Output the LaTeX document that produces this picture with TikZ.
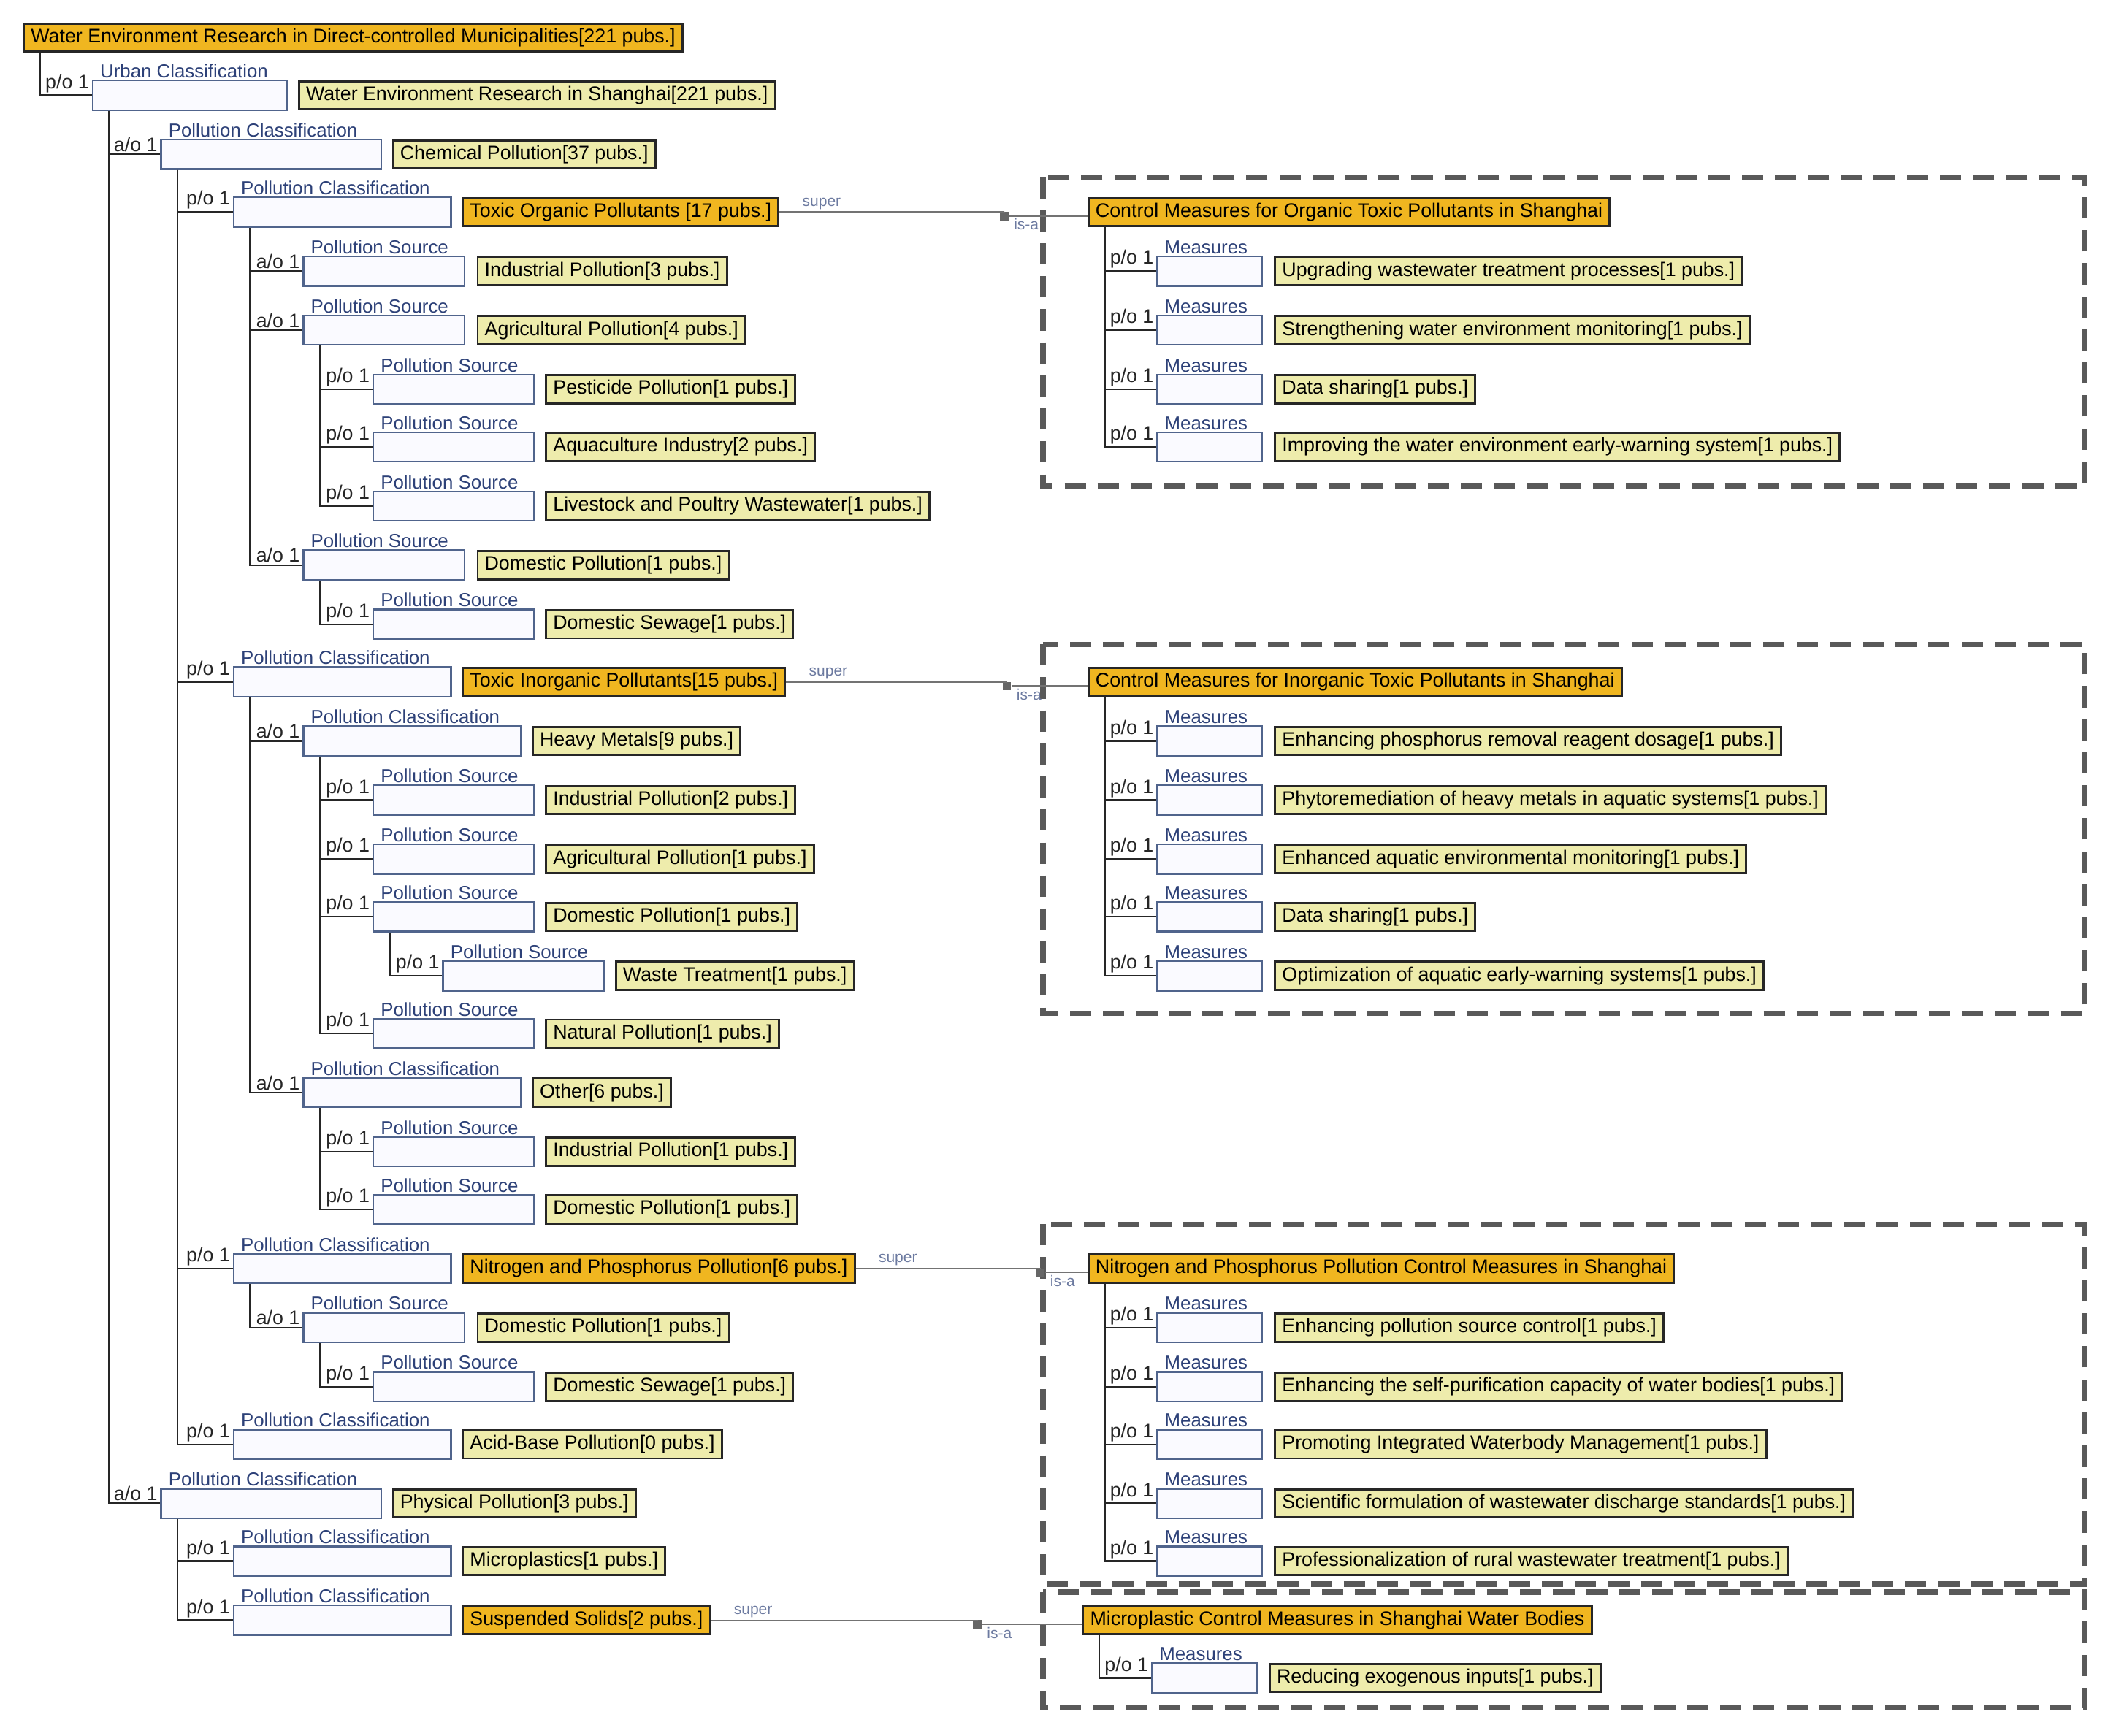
\documentclass[tikz,border=0pt]{standalone}
\usepackage{fontspec}
\setmainfont{Liberation Sans}
\begin{document}
\begin{tikzpicture}[x=0.02cm,y=-0.02cm,
  font=\fontsize{8.3}{9.5}\selectfont,
  yb/.style={draw=black!85,line width=0.9pt,fill=ylw,anchor=west,inner xsep=3pt,inner ysep=1pt,minimum height=0.42cm},
  ob/.style={yb,fill=org},
  blank/.style={draw=bbord,line width=0.7pt,fill=blue!2,minimum height=0.44cm,inner sep=0pt},
  typelab/.style={text=tlab,inner sep=0.5pt,anchor=south west,font=\fontsize{8}{9}\selectfont},
  rel/.style={inner sep=1pt,anchor=south east,text=black!85},
  conn/.style={draw=black!85,line width=0.7pt},
  dbox/.style={draw=black!65,line width=2.3pt,dash pattern=on 9pt off 5pt},
  supl/.style={text=tlab!70,font=\fontsize{6.5}{7}\selectfont,inner sep=1pt},
  sq/.style={fill=black!60,minimum size=3.5pt,inner sep=0pt},
  sline/.style={draw=black!55,line width=0.6pt}]
\definecolor{ylw}{RGB}{238,236,172}
\definecolor{org}{RGB}{240,182,32}
\definecolor{bbord}{RGB}{80,100,140}
\definecolor{tlab}{RGB}{45,65,120}
\useasboundingbox (0,0) rectangle (1568,1293);
\newcommand\lk[2]{\draw[conn] ([xshift=0.26cm]#1b.south west) |- (#2b.west);}
\newcommand\R[9]{\node[blank,minimum width=#3*0.02cm] (#1b) at (#2+#3/2,#4) {};
  \node[typelab] (#1t) at ([xshift=0.1cm]#1b.north west) {#6};
  \node[rel] (#1r) at (#1b.west) {#5};
  \node[#7] (#1) at (#8,#4) {#9};}
% root
\node[ob] (rootb) at (17,28) {Water Environment Research in Direct-controlled Municipalities[221 pubs.]};
\R{sh}{69}{145}{71}{p/o 1}{Urban Classification}{yb}{222}{Water Environment Research in Shanghai[221 pubs.]}
\draw[conn] ([xshift=0.26cm]rootb.south west) |- (shb.west);
\R{chem}{120}{164}{115}{a/o 1}{Pollution Classification}{yb}{292}{Chemical Pollution[37 pubs.]}
\R{tor}{174}{162}{158}{p/o 1}{Pollution Classification}{ob}{344}{Toxic Organic Pollutants [17 pubs.]}
\R{ind}{226}{120}{202}{a/o 1}{Pollution Source}{yb}{355}{Industrial Pollution[3 pubs.]}
\R{agr}{226}{120}{246}{a/o 1}{Pollution Source}{yb}{355}{Agricultural Pollution[4 pubs.]}
\R{pest}{278}{120}{290}{p/o 1}{Pollution Source}{yb}{406}{Pesticide Pollution[1 pubs.]}
\R{aqua}{278}{120}{333}{p/o 1}{Pollution Source}{yb}{406}{Aquaculture Industry[2 pubs.]}
\R{live}{278}{120}{377}{p/o 1}{Pollution Source}{yb}{406}{Livestock and Poultry Wastewater[1 pubs.]}
\R{dom}{226}{120}{421}{a/o 1}{Pollution Source}{yb}{355}{Domestic Pollution[1 pubs.]}
\R{dsew}{278}{120}{465}{p/o 1}{Pollution Source}{yb}{406}{Domestic Sewage[1 pubs.]}
\R{tin}{174}{162}{508}{p/o 1}{Pollution Classification}{ob}{344}{Toxic Inorganic Pollutants[15 pubs.]}
\R{hm}{226}{162}{552}{a/o 1}{Pollution Classification}{yb}{396}{Heavy Metals[9 pubs.]}
\R{hind}{278}{120}{596}{p/o 1}{Pollution Source}{yb}{406}{Industrial Pollution[2 pubs.]}
\R{hagr}{278}{120}{640}{p/o 1}{Pollution Source}{yb}{406}{Agricultural Pollution[1 pubs.]}
\R{hdom}{278}{120}{683}{p/o 1}{Pollution Source}{yb}{406}{Domestic Pollution[1 pubs.]}
\R{wt}{330}{120}{727}{p/o 1}{Pollution Source}{yb}{458}{Waste Treatment[1 pubs.]}
\R{nat}{278}{120}{770}{p/o 1}{Pollution Source}{yb}{406}{Natural Pollution[1 pubs.]}
\R{oth}{226}{162}{814}{a/o 1}{Pollution Classification}{yb}{396}{Other[6 pubs.]}
\R{oind}{278}{120}{858}{p/o 1}{Pollution Source}{yb}{406}{Industrial Pollution[1 pubs.]}
\R{odom}{278}{120}{901}{p/o 1}{Pollution Source}{yb}{406}{Domestic Pollution[1 pubs.]}
\R{np}{174}{162}{945}{p/o 1}{Pollution Classification}{ob}{344}{Nitrogen and Phosphorus Pollution[6 pubs.]}
\R{npdom}{226}{120}{989}{a/o 1}{Pollution Source}{yb}{355}{Domestic Pollution[1 pubs.]}
\R{npsew}{278}{120}{1033}{p/o 1}{Pollution Source}{yb}{406}{Domestic Sewage[1 pubs.]}
\R{ab}{174}{162}{1076}{p/o 1}{Pollution Classification}{yb}{344}{Acid-Base Pollution[0 pubs.]}
\R{phys}{120}{164}{1120}{a/o 1}{Pollution Classification}{yb}{292}{Physical Pollution[3 pubs.]}
\R{mp}{174}{162}{1163}{p/o 1}{Pollution Classification}{yb}{344}{Microplastics[1 pubs.]}
\R{ss}{174}{162}{1207}{p/o 1}{Pollution Classification}{ob}{344}{Suspended Solids[2 pubs.]}
\lk{sh}{chem}\lk{sh}{phys}
\lk{chem}{tor}\lk{chem}{tin}\lk{chem}{np}\lk{chem}{ab}
\lk{tor}{ind}\lk{tor}{agr}\lk{tor}{dom}
\lk{agr}{pest}\lk{agr}{aqua}\lk{agr}{live}
\lk{dom}{dsew}
\lk{tin}{hm}\lk{tin}{oth}
\lk{hm}{hind}\lk{hm}{hagr}\lk{hm}{hdom}\lk{hm}{nat}
\lk{hdom}{wt}
\lk{oth}{oind}\lk{oth}{odom}
\lk{np}{npdom}\lk{npdom}{npsew}
\lk{phys}{mp}\lk{phys}{ss}
% dashed boxes
\draw[dbox] (777,132) rectangle (1553,362);
\draw[dbox] (777,480) rectangle (1553,755);
\draw[dbox] (777,912) rectangle (1553,1180);
\draw[dbox] (777,1186) rectangle (1553,1272);
% headers
\node[ob] (h1b) at (810,158) {Control Measures for Organic Toxic Pollutants in Shanghai};
\node[ob] (h2b) at (810,508) {Control Measures for Inorganic Toxic Pollutants in Shanghai};
\node[ob] (h3b) at (810,945) {Nitrogen and Phosphorus Pollution Control Measures in Shanghai};
\node[ob] (h4b) at (806,1207) {Microplastic Control Measures in Shanghai Water Bodies};
\R{a1}{862}{78}{202}{p/o 1}{Measures}{yb}{949}{Upgrading wastewater treatment processes[1 pubs.]}
\R{a2}{862}{78}{246}{p/o 1}{Measures}{yb}{949}{Strengthening water environment monitoring[1 pubs.]}
\R{a3}{862}{78}{290}{p/o 1}{Measures}{yb}{949}{Data sharing[1 pubs.]}
\R{a4}{862}{78}{333}{p/o 1}{Measures}{yb}{949}{Improving the water environment early-warning system[1 pubs.]}
\R{b1}{862}{78}{552}{p/o 1}{Measures}{yb}{949}{Enhancing phosphorus removal reagent dosage[1 pubs.]}
\R{b2}{862}{78}{596}{p/o 1}{Measures}{yb}{949}{Phytoremediation of heavy metals in aquatic systems[1 pubs.]}
\R{b3}{862}{78}{640}{p/o 1}{Measures}{yb}{949}{Enhanced aquatic environmental monitoring[1 pubs.]}
\R{b4}{862}{78}{683}{p/o 1}{Measures}{yb}{949}{Data sharing[1 pubs.]}
\R{b5}{862}{78}{727}{p/o 1}{Measures}{yb}{949}{Optimization of aquatic early-warning systems[1 pubs.]}
\R{c1}{862}{78}{989}{p/o 1}{Measures}{yb}{949}{Enhancing pollution source control[1 pubs.]}
\R{c2}{862}{78}{1033}{p/o 1}{Measures}{yb}{949}{Enhancing the self-purification capacity of water bodies[1 pubs.]}
\R{c3}{862}{78}{1076}{p/o 1}{Measures}{yb}{949}{Promoting Integrated Waterbody Management[1 pubs.]}
\R{c4}{862}{78}{1120}{p/o 1}{Measures}{yb}{949}{Scientific formulation of wastewater discharge standards[1 pubs.]}
\R{c5}{862}{78}{1163}{p/o 1}{Measures}{yb}{949}{Professionalization of rural wastewater treatment[1 pubs.]}
\R{d1}{858}{78}{1250}{p/o 1}{Measures}{yb}{945}{Reducing exogenous inputs[1 pubs.]}
\foreach \p/\cs in {h1/{a1,a2,a3,a4},h2/{b1,b2,b3,b4,b5},h3/{c1,c2,c3,c4,c5},h4/{d1}}
  \foreach \c in \cs {\lk{\p}{\c}}
% super / is-a links
\node[sq] (s1) at (748,161) {};
\node[sq] (s2) at (750,511) {};
\node[sq] (s3) at (775,948) {};
\node[sq] (s4) at (728,1210) {};
\foreach \o/\s/\h in {tor/s1/h1b,tin/s2/h2b,np/s3/h3b,ss/s4/h4b}{
  \draw[sline] (\o.east) -- (\o.east -| \s) -- (\s) -- (\s -| \h.west);
  \node[supl,anchor=south west] at ([xshift=0.3cm]\o.east) {super};
  \node[supl,anchor=north west] at ([xshift=1pt]\s.east) {is-a};}
\end{tikzpicture}
\end{document}
